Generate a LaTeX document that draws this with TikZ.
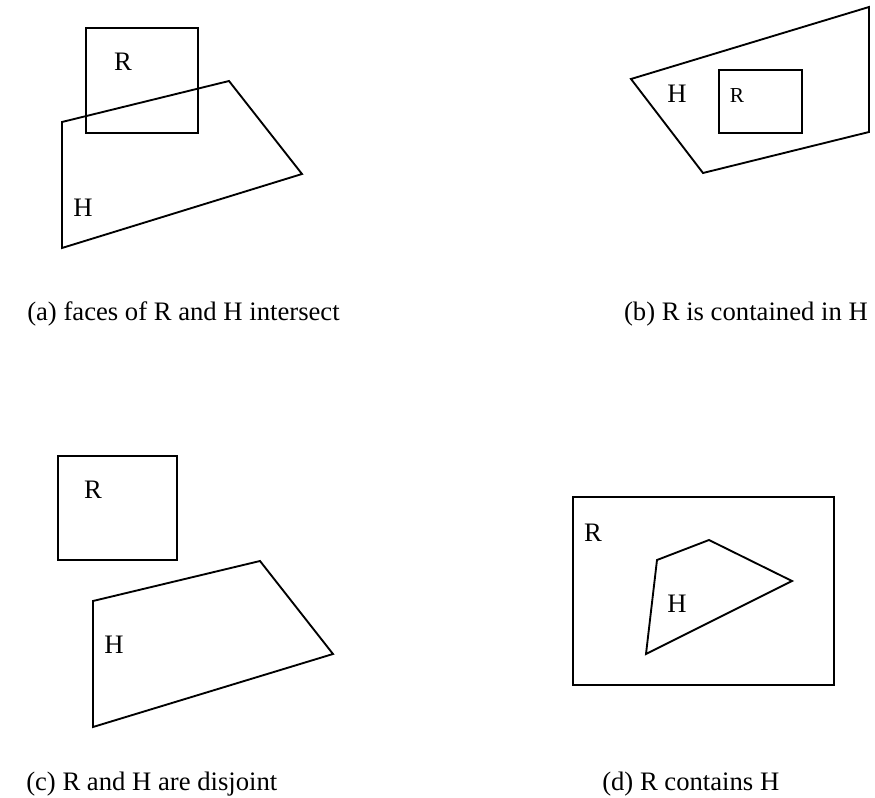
\documentclass[tikz,border=0pt]{standalone}
\usepackage{fontspec}
\setmainfont{Liberation Serif}
\usetikzlibrary{positioning}

\begin{document}
\begin{tikzpicture}[
    x=0.75pt, y=-0.75pt,
    face/.style = {draw, line width=1.4pt, line join=miter},
    lbl/.style = {inner sep=0pt, anchor=center, font=\fontsize{20}{24}\selectfont},
    small_lbl/.style = {lbl, font=\fontsize{16}{19}\selectfont},
    caption/.style = {inner sep=0pt, anchor=base west, font=\fontsize{20}{24}\selectfont}
]
\useasboundingbox (0,0) rectangle (875,798);

% Panel (a)
\draw [face] (86,28) rectangle (198,133);
\draw [face] (62,122) -- (229,81) -- (302,174) -- (62,248) -- cycle;
\node [lbl] (ra) at (123,62) {R};
\node [lbl] (ha) at (83,208) {H};
\node [caption] (capa) at (27,321) {(a) faces of R and H intersect};

% Panel (b)
\draw [face] (631,79) -- (869,7) -- (869,132) -- (703,173) -- cycle;
\draw [face] (719,70) rectangle (802,133);
\node [lbl] (hb) at (677,94) {H};
\node [small_lbl] (rb) at (737,96) {R};
\node [caption, anchor=base east] (capb) at (868,321) {(b) R is contained in H};

% Panel (c)
\draw [face] (58,456) rectangle (177,560);
\draw [face] (93,601) -- (260,561) -- (333,654) -- (93,727) -- cycle;
\node [lbl] (rc) at (93,490) {R};
\node [lbl] (hc) at (114,645) {H};
\node [caption] (capc) at (26,790) {(c) R and H are disjoint};

% Panel (d)
\draw [face] (573,497) rectangle (834,685);
\draw [face] (657,560) -- (709,540) -- (792,581) -- (646,654) -- cycle;
\node [lbl] (rd) at (593,533) {R};
\node [lbl] (hd) at (677,604) {H};
\node [caption] (capd) at (602,790) {(d) R contains H};

\end{tikzpicture}
\end{document}
